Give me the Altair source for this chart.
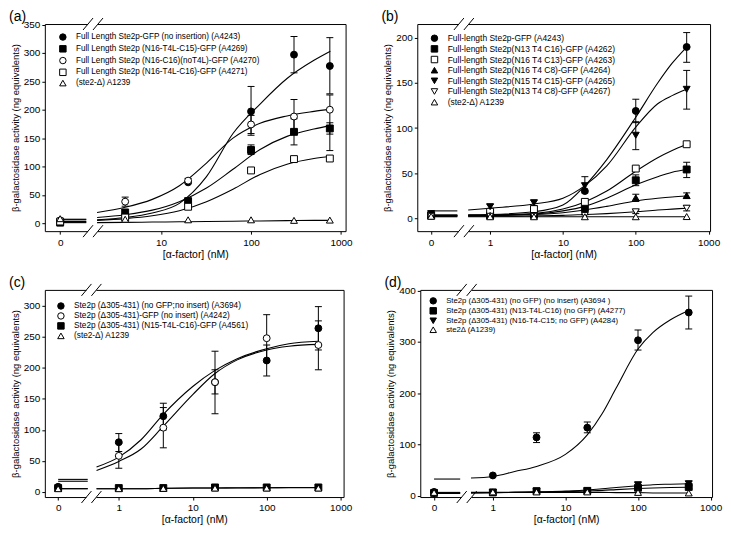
import math
import altair as alt
import pandas as pd

# ---------------- Panel (a) ----------------
A_CONC = [0, 4, 20, 100, 300, 750]
A_LABELS = ["Full Length Ste2p-GFP (no insertion) (A4243)",
            "Full Length Ste2p (N16-T4L-C15)-GFP (A4269)",
            "Full Length Ste2p (N16-C16)(noT4L)-GFP (A4270)",
            "Full Length Ste2p (N16-T4L-C16)-GFP (A4271)",
            " (ste2-\u0394) A1239"]
A_SHAPES = ["circle", "square", "circle", "square", "triangle-up"]
A_FILLS = ["black", "black", "white", "white", "white"]
A_Y = [[2, 14, 72, 197, 297, 277],
       [1, 19, 39, 129, 161, 167],
       [5, 38, 75, 174, 188, 200],
       [3, 10, 29, 93, 113, 114],
       [8, 7, 6, 6, 5, 5.5]]
A_LO = [[None, None, None, 155, 265, 228],
        [None, None, 37, 121, 138, 157],
        [None, 30, 71, 158, 158, 128],
        [None, None, None, None, None, None],
        [None, None, None, None, None, None]]
A_HI = [[None, None, None, 241, 329, 327],
        [None, None, 43, 138, 184, 177],
        [None, 46, 79, 190, 218, 226],
        [None, None, None, None, None, None],
        [None, None, None, None, None, None]]
A_FIT_X = [1.95, 4, 8, 16, 32, 63, 126, 251, 500, 760]
A_FIT = [[6, 10, 18, 35, 82, 158, 210, 255, 287, 303],
         [10, 15, 23, 38, 62, 95, 130, 153, 166, 172],
         [19, 28, 42, 66, 106, 150, 176, 189, 197, 201],
         [5, 8, 13, 22, 38, 60, 86, 104, 114, 118],
         [1, 1.5, 2, 2.5, 3, 3.5, 4, 4.5, 5, 5]]
A_PLATEAU = [2, 1, 6, 3, 7]

# ---------------- Panel (b) ----------------
B_CONC = [0, 1, 4, 20, 100, 500]
B_LABELS = ["Full-length Ste2p-GFP (A4243)",
            "Full-length Ste2p(N13 T4 C16)-GFP (A4262)",
            "Full-length Ste2p(N16 T4 C13)-GFP (A4263)",
            "Full-length Ste2p(N16 T4 C8)-GFP (A4264)",
            "Full-length Ste2p(N15 T4 C15)-GFP (A4265)",
            "Full-length Ste2p(N13 T4 C8)-GFP (A4267)",
            "(ste2-\u0394) A1239"]
B_SHAPES = ["circle", "square", "square", "triangle-up", "triangle-down", "triangle-down", "triangle-up"]
B_FILLS = ["black", "black", "white", "black", "black", "white", "white"]
B_Y = [[4, 4, 5, 30, 119, 190],
       [3, 3, 4, 11, 42, 54],
       [3, 7, 10, 18, 55, 82],
       [3, 3, 3, 7, 22.5, 25],
       [5, 12.7, 17, 36, 92, 143],
       [2, 2, 2, 3, 7, 11],
       [2, 1.5, 1.5, 1.5, 1.5, 1.7]]
B_LO = [[None, None, None, None, 106, 173],
        [None, None, None, 8, 36, 45],
        [None, None, None, None, None, None],
        [None, None, None, None, 18.5, 22],
        [None, 10, 14, 28, 76, 121],
        [None, None, None, None, 5, 8],
        [None, None, None, None, None, None]]
B_HI = [[None, None, None, None, 132, 206],
        [None, None, None, 14, 48, 62],
        [None, None, None, None, None, None],
        [None, None, None, None, 26.5, 28],
        [None, 15, 20, 46, 107, 164],
        [None, None, None, None, 9, 14],
        [None, None, None, None, None, None]]
B_FIT_X = [0.5, 1, 4, 10, 20, 40, 100, 200, 316, 500]
B_FIT = [[3.6, 4, 7, 14.5, 36, 65, 112, 150, 172, 190],
         [3, 3, 4.5, 8, 13, 22, 37, 46, 51, 54],
         [3, 3.5, 5, 10, 18, 30, 52, 67, 75, 82],
         [2.5, 3, 4, 6, 9, 13, 19, 22, 23.5, 24.5],
         [9, 11, 15.6, 22, 36, 58, 101, 127, 136, 143],
         [2, 2, 2.5, 3, 4, 5, 7, 9, 10, 11],
         [1.5, 1.5, 1.5, 1.5, 1.5, 1.5, 1.5, 1.5, 1.5, 1.5]]
B_PLATEAU = [3.5, 3, 3, 2.5, 8, 2, 1.5]

# ---------------- Panel (c) ----------------
C_CONC = [0, 1, 4, 20, 100, 500]
C_LABELS = ["Ste2p (\u0394305-431) (no GFP;no insert) (A3694)",
            "Ste2p (\u0394305-431)-GFP (no insert) (A4242)",
            "Ste2p (\u0394305-431) (N15-T4L-C16)-GFP (A4561)",
            "(ste2-\u0394) A1239"]
C_SHAPES = ["circle", "circle", "square", "triangle-up"]
C_FILLS = ["black", "white", "black", "white"]
C_Y = [[8, 80, 122, 177, 212, 264],
       [7, 58, 103.5, 177, 248, 237],
       [6, 6, 6, 7, 7, 7],
       [5, 5, 5.5, 6, 6, 6]]
C_LO = [[None, 65, 100, 158, 187, 229],
        [None, 38, 71, 126, 210, 197],
        [None, None, None, None, None, None],
        [None, None, None, None, None, None]]
C_HI = [[None, 94, 143, 197, 237, 299],
        [None, 78, 136, 227, 286, 276],
        [None, None, None, None, None, None],
        [None, None, None, None, None, None]]
C_FIT_X = [0.5, 1, 2, 4, 10, 20, 40, 100, 200, 500]
C_FIT = [[40, 56, 84, 125, 170, 196, 215, 231, 239, 243],
         [34.5, 49, 69, 106, 157, 191, 213, 229, 235, 238],
         [5, 5, 5, 5.5, 6, 6, 6.5, 6.5, 7, 7],
         [5, 5, 5, 5.5, 6, 6, 6, 6.5, 6.5, 6.5]]
C_PLATEAU = [20, 17, 5, 5]

# ---------------- Panel (d) ----------------
D_CONC = [0, 1, 4, 20, 100, 500]
D_LABELS = ["Ste2p (\u0394305-431) (no GFP) (no insert) (A3694 )",
            "Ste2p (\u0394305-431) (N13-T4L-C16) (no GFP) (A4277)",
            "Ste2p (\u0394305-431) (N16-T4-C15; no GFP) (A4284)",
            "ste2\u0394 (A1239)"]
D_SHAPES = ["circle", "square", "triangle-down", "triangle-up"]
D_FILLS = ["black", "black", "black", "white"]
D_Y = [[8, 40, 114, 133, 303, 357],
       [6, 7, 9.5, 10, 16, 17.6],
       [3, 7, 9, 10, 22, 24],
       [7, 8, 8, 8, 7, 6]]
D_LO = [[None, None, 104, 123, 284, 325],
        [None, None, None, None, 13, 14],
        [None, None, None, None, 18, 20],
        [None, None, None, None, None, None]]
D_HI = [[None, None, 123, 144, 323, 389],
        [None, None, None, None, 19, 21],
        [None, None, None, None, 26, 28],
        [None, None, None, None, None, None]]
D_FIT_X = [0.5, 1, 2, 4, 10, 20, 32, 50, 100, 160, 280, 500]
D_FIT = [[35, 38, 47.6, 57.6, 81, 119, 160, 210, 286, 318, 343, 361],
         [6, 6.5, 7, 7.5, 8.5, 10, 11, 12.5, 14.5, 15.5, 16.5, 17],
         [6, 6.5, 7, 8, 9.5, 12, 14, 16.5, 20, 22, 23, 24],
         [7, 7, 7, 7, 7, 7, 7, 6.5, 6.5, 6, 6, 6]]
D_PLATEAU = [33, 7, 5, 6]

FONT = "Liberation Sans"
X_TITLE = "[\u03b1-factor] (nM)"
Y_TITLE = "\u03b2-galactosidase activity (ng equivalents)"


def panel(title, conc, labels, shapes, fills, ys, los, his, fit_x, fits, plateaus,
          zero_pos, seg_end, brk, xdom, ydom, yticks, xticks, W, H,
          lx, ly, lfs, rowpad):
    def to_pos(c):
        return math.log10(c) if c > 0 else zero_pos

    pts, errs, caps, lines = [], [], [], []
    for s, lab in enumerate(labels):
        for i, c in enumerate(conc):
            p = to_pos(c)
            pts.append({"pos": p, "val": ys[s][i], "series": lab})
            lo, hi = los[s][i], his[s][i]
            if lo is not None and hi is not None:
                errs.append({"pos": p, "lo": lo, "hi": hi})
                caps.append({"pos": p, "cap": lo})
                caps.append({"pos": p, "cap": hi})
        lines.append({"pos": zero_pos, "val": plateaus[s], "key": f"{s}-0"})
        lines.append({"pos": seg_end, "val": plateaus[s], "key": f"{s}-0"})
        for xv, v in zip(fit_x, fits[s]):
            lines.append({"pos": math.log10(xv), "val": v, "key": f"{s}-1"})

    xs = alt.Scale(domain=xdom, nice=False, zero=False)
    ysc = alt.Scale(domain=ydom, nice=False, zero=False)
    label_expr = (f"datum.value < {zero_pos + 0.3} ? '0' : "
                  "format(pow(10, datum.value), 'd')")
    xaxis = alt.Axis(title=X_TITLE, values=xticks, labelExpr=label_expr,
                     labelPadding=3, titlePadding=2, titleFontSize=10.5,
                     labelFlush=False)
    yaxis = alt.Axis(title=Y_TITLE, values=yticks, labelPadding=2, titlePadding=3,
                     titleFontSize=9.5, labelFlush=False)

    def X(f):
        return alt.X(f, type="quantitative", scale=xs, axis=xaxis)

    def Y(f):
        return alt.Y(f, type="quantitative", scale=ysc, axis=yaxis)

    leg = alt.Legend(orient="none", legendX=lx, legendY=ly, title=None,
                     labelFontSize=lfs, labelFont=FONT, symbolSize=42,
                     symbolStrokeWidth=1,
                     rowPadding=rowpad, labelOffset=9, labelLimit=500,
                     padding=0, labelColor="black")

    n = len(labels)
    base_pts = alt.Chart(pd.DataFrame(pts))
    points = base_pts.mark_point(strokeWidth=1, opacity=1,
                                 fillOpacity=1, size=48).encode(
        x=X("pos"), y=Y("val"),
        shape=alt.Shape("series:N", scale=alt.Scale(domain=labels, range=shapes), legend=leg),
        fill=alt.Fill("series:N", scale=alt.Scale(domain=labels, range=fills), legend=leg),
        stroke=alt.Stroke("series:N", scale=alt.Scale(domain=labels, range=["black"] * n), legend=leg),
    )
    line = alt.Chart(pd.DataFrame(lines)).mark_line(
        color="black", strokeWidth=1.1, interpolate="monotone").encode(
        x=X("pos"), y=Y("val"), detail="key:N")
    layers = [line]
    if errs:
        rule = alt.Chart(pd.DataFrame(errs)).mark_rule(color="black", strokeWidth=1).encode(
            x=X("pos"), y=Y("lo"), y2="hi")
        cap = alt.Chart(pd.DataFrame(caps)).mark_tick(
            color="black", orient="horizontal", size=7, thickness=1, opacity=1).encode(
            x=X("pos"), y=Y("cap"))
        layers += [rule, cap]
    layers.append(points)

    bdf = pd.DataFrame({"brk": [brk]})
    bb = alt.Chart(bdf)
    for yy in (0, H):
        layers.append(bb.mark_rect(color="white", xOffset=-5, x2Offset=5).encode(
            x=X("brk"), x2="brk", y=alt.value(yy - 2), y2=alt.value(yy + 2)))
        for d in (-5, 5):
            layers.append(bb.mark_rule(color="black", strokeWidth=1,
                                       xOffset=d - 5, x2Offset=d + 5).encode(
                x=X("brk"), x2="brk", y=alt.value(yy + 6), y2=alt.value(yy - 6)))

    tag = alt.Chart(pd.DataFrame({"t": [title]})).mark_text(
        align="left", baseline="top", fontSize=14, font=FONT, color="black").encode(
        x=alt.value(-36), y=alt.value(-14), text="t:N")
    layers.append(tag)

    return alt.layer(*layers).properties(width=W, height=H)


H = 208
pa = panel("(a)", A_CONC, A_LABELS, A_SHAPES, A_FILLS, A_Y, A_LO, A_HI, A_FIT_X, A_FIT,
           A_PLATEAU, -0.12, 0.17, 0.245, [-0.29, 3.05], [-14, 351],
           [0, 50, 100, 150, 200, 250, 300, 350], [-0.12, 1, 2, 3], 302, H,
           14, 9, 8.2, -0.2)
pb = panel("(b)", B_CONC, B_LABELS, B_SHAPES, B_FILLS, B_Y, B_LO, B_HI, B_FIT_X, B_FIT,
           B_PLATEAU, -0.81, -0.45, -0.36, [-1.0, 3.02], [-14.5, 215.5],
           [0, 50, 100, 150, 200], [-0.81, 0, 1, 2, 3], 294, H,
           13, 10, 8.5, -0.3)
pc = panel("(c)", C_CONC, C_LABELS, C_SHAPES, C_FILLS, C_Y, C_LO, C_HI, C_FIT_X, C_FIT,
           C_PLATEAU, -0.82, -0.42, -0.37, [-1.0, 3.04], [-8.5, 326],
           [0, 50, 100, 150, 200, 250, 300], [-0.82, 0, 1, 2, 3], 300, H,
           12, 12, 8.3, -2.4)
pd_ = panel("(d)", D_CONC, D_LABELS, D_SHAPES, D_FILLS, D_Y, D_LO, D_HI, D_FIT_X, D_FIT,
            D_PLATEAU, -0.81, -0.45, -0.36, [-1.0, 3.02], [-2, 401],
            [0, 100, 200, 300, 400], [-0.81, 0, 1, 2, 3], 293, H,
            9, 7, 7.8, -4.2)

res = dict(x="independent", y="independent", shape="independent", fill="independent",
           stroke="independent")
lres = dict(shape="independent", fill="independent", stroke="independent")
row1 = alt.hconcat(pa, pb, spacing=27).resolve_scale(**res).resolve_legend(**lres)
row2 = alt.hconcat(pc, pd_, spacing=31).resolve_scale(**res).resolve_legend(**lres)
chart = alt.vconcat(row1, row2, spacing=15).resolve_scale(**res).resolve_legend(**lres).configure(
    font=FONT, padding=0
).configure_view(stroke="black", strokeWidth=1).configure_axis(
    grid=False, domain=False, ticks=True, tickColor="black", tickSize=3,
    labelFont=FONT, titleFont=FONT, labelFontSize=10,
    labelColor="black", titleColor="black", titleFontWeight="normal"
)

chart.save("out.html", embed_options={"renderer": "svg", "actions": False})
